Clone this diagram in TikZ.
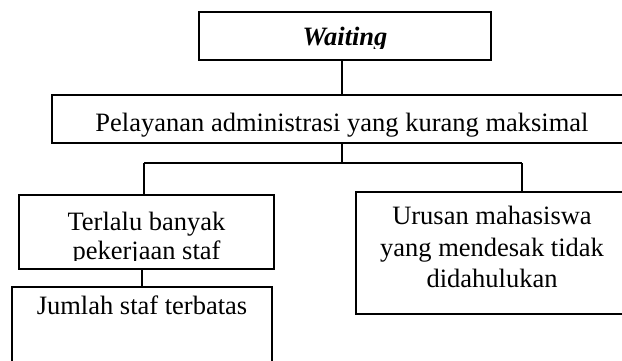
\documentclass[tikz,border=0pt]{standalone}
\usepackage{fontspec}
\setmainfont{Liberation Serif}
\begin{document}
\begin{tikzpicture}[x=1pt,y=-1pt,
  box/.style={draw, line width=1.8pt, rectangle, inner sep=0pt, outer sep=0pt},
  conn/.style={line width=1.4pt},
  txt/.style={inner sep=0pt, outer sep=0pt, anchor=base, font=\fontsize{26.5}{31}\selectfont}]
\clip (0,0) rectangle (622,360);
\fill[white] (0,0) rectangle (622,360);
% boxes
\node[box, minimum width=292pt, minimum height=48pt] (waiting) at (345,36) {};
\node[box, minimum width=580pt, minimum height=48pt] (pel) at (342,119) {};
\node[box, minimum width=255pt, minimum height=74pt] (terlalu) at (146.5,232) {};
\node[box, minimum width=260pt, minimum height=113pt] (jumlah) at (142,343.5) {};
\node[box, minimum width=272pt, minimum height=122pt] (urusan) at (492,253) {};
% texts
\begin{scope}
  \clip (199,12) rectangle (491,48);
  \node[txt] (twait) at (345,45) {\bfseries\itshape Waiting};
\end{scope}
\node[txt] (tpel) at (342,131) {Pelayanan administrasi yang kurang maksimal};
\begin{scope}
  \clip (19,195) rectangle (274,260);
  \node[txt] (tter1) at (146.5,230) {Terlalu banyak};
  \node[txt] (tter2) at (146.5,259) {pekerjaan staf};
\end{scope}
\node[txt] (tjum) at (142,314) {Jumlah staf terbatas};
\node[txt] (tur1) at (492,224) {Urusan mahasiswa};
\node[txt] (tur2) at (492,256) {yang mendesak tidak};
\node[txt] (tur3) at (492,287) {didahulukan};
% connectors
\coordinate (barL) at (144,163);
\coordinate (barR) at (522,163);
\draw[conn] (pel.north |- waiting.south) -- (pel.north);
\draw[conn] (pel.south) -- (pel.south |- barL);
\draw[conn] (barL) -- (barR);
\draw[conn] (barL) -- (barL |- terlalu.north);
\draw[conn] (barR) -- (barR |- urusan.north);
\draw[conn] (jumlah.north |- terlalu.south) -- (jumlah.north);
\end{tikzpicture}
\end{document}
